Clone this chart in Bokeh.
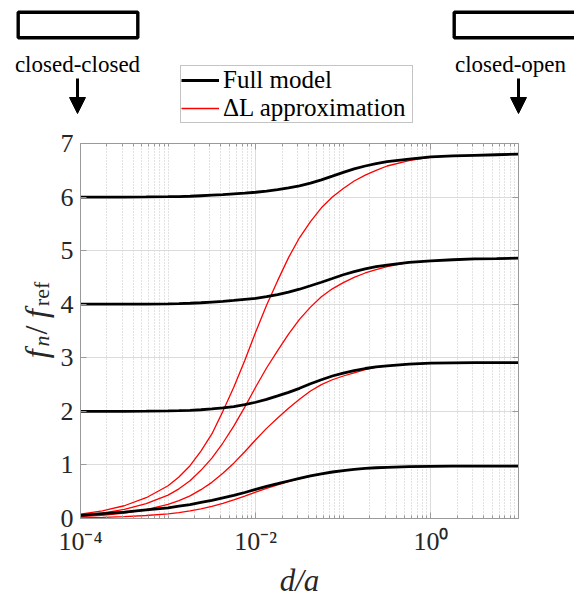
import math

from bokeh.layouts import column, row
from bokeh.models import (Arrow, BoxAnnotation, FixedTicker, Label, Legend,
                          LegendItem, LinearAxis, LogAxis, NormalHead, Range1d)
from bokeh.plotting import figure
from bokeh.embed import file_html
from bokeh.resources import INLINE

# ---------------------------------------------------------------- data
# d/a sample positions (log-spaced, denser where the curves bend)
d_over_a = [1.0e-4, 1.78e-4, 3.16e-4, 5.62e-4, 1.0e-3, 1.33e-3, 1.78e-3,
            2.37e-3, 3.16e-3, 4.22e-3, 5.62e-3, 7.50e-3, 1.0e-2, 1.33e-2,
            1.78e-2, 2.37e-2, 3.16e-2, 4.22e-2, 5.62e-2, 7.50e-2, 0.1,
            0.133, 0.178, 0.237, 0.316, 0.562, 1.0, 1.78, 3.16, 5.62, 10.0]

# Full model, f_n / f_ref for the first four modes
full_1 = [0.06, 0.09, 0.12, 0.16, 0.20, 0.23, 0.26, 0.30, 0.34, 0.385, 0.43,
          0.485, 0.545, 0.60, 0.65, 0.70, 0.75, 0.795, 0.835, 0.868, 0.895,
          0.917, 0.935, 0.947, 0.955, 0.967, 0.974, 0.977, 0.978, 0.978, 0.978]
full_2 = [2.0, 2.0, 2.0, 2.003, 2.008, 2.012, 2.02, 2.03, 2.045, 2.065, 2.09,
          2.125, 2.17, 2.225, 2.29, 2.355, 2.43, 2.515, 2.59, 2.66, 2.715,
          2.76, 2.80, 2.83, 2.85, 2.88, 2.90, 2.905, 2.91, 2.91, 2.91]
full_3 = [4.0, 4.0, 4.0, 4.003, 4.008, 4.012, 4.018, 4.027, 4.04, 4.053, 4.07,
          4.09, 4.11, 4.14, 4.18, 4.225, 4.28, 4.345, 4.41, 4.48, 4.55,
          4.61, 4.66, 4.70, 4.73, 4.78, 4.81, 4.83, 4.845, 4.85, 4.86]
full_4 = [6.0, 6.0, 6.0, 6.003, 6.007, 6.01, 6.015, 6.025, 6.035, 6.045, 6.06,
          6.073, 6.09, 6.112, 6.14, 6.172, 6.21, 6.26, 6.32, 6.39, 6.46,
          6.525, 6.58, 6.625, 6.66, 6.71, 6.75, 6.77, 6.78, 6.79, 6.80]

# End-correction (Delta L) approximation for the same modes
dl_1 = [0.012, 0.020, 0.034, 0.056, 0.088, 0.111, 0.141, 0.180, 0.226, 0.283,
        0.346, 0.417, 0.492, 0.564, 0.629, 0.690, 0.746, 0.792, 0.833, 0.868,
        0.895, 0.917, 0.935, 0.947, 0.955, 0.967, 0.974, 0.977, 0.978, 0.978, 0.978]
dl_2 = [0.035, 0.061, 0.102, 0.166, 0.262, 0.332, 0.422, 0.538, 0.675, 0.844,
        1.033, 1.245, 1.470, 1.682, 1.877, 2.060, 2.226, 2.38, 2.50, 2.59,
        2.66, 2.72, 2.78, 2.825, 2.85, 2.88, 2.90, 2.905, 2.91, 2.91, 2.91]
dl_3 = [0.058, 0.102, 0.170, 0.277, 0.437, 0.554, 0.705, 0.899, 1.128, 1.409,
        1.725, 2.080, 2.454, 2.809, 3.135, 3.441, 3.718, 3.946, 4.141, 4.287,
        4.403, 4.500, 4.583, 4.646, 4.70, 4.78, 4.81, 4.83, 4.845, 4.85, 4.86]
dl_4 = [0.082, 0.143, 0.238, 0.388, 0.612, 0.775, 0.986, 1.258, 1.578, 2.00,
        2.45, 2.95, 3.48, 3.98, 4.44, 4.87, 5.24, 5.54, 5.80, 6.00,
        6.16, 6.30, 6.41, 6.50, 6.58, 6.68, 6.745, 6.77, 6.78, 6.79, 6.80]

full_series = [full_1, full_2, full_3, full_4]
dl_series = [dl_1, dl_2, dl_3, dl_4]

x_major = [1e-4, 1e-2, 1.0]
x_major_labels = {1e-4: "10\u207b\u2074", 1e-2: "10\u207b\u00b2", 1.0: "10\u2070"}
y_major = [0, 1, 2, 3, 4, 5, 6, 7]

legend_full = "Full model"
legend_dl = "\u0394L approximation"
left_case = "closed-closed"
right_case = "closed-open"

# ---------------------------------------------------------------- styling
SERIF = "Liberation Serif"
AX_GRAY = "#9a9a9a"
TXT = "#262626"

W, H = 574, 600
TOP_H = 125          # strip above the plot holding the sketches and legend
LEFT_W = 57          # strip holding the rotated y label
FRAME_L, FRAME_R, FRAME_T, FRAME_B = 77, 518, 143, 523   # page pixels


def blank_figure(width, height, x_range, y_range):
    f = figure(width=width, height=height, x_range=x_range, y_range=y_range,
               x_axis_location=None, y_axis_location=None,
               output_backend="svg", toolbar_location=None, min_border=0)
    f.grid.visible = False
    f.outline_line_color = None
    f.background_fill_color = "white"
    f.border_fill_color = "white"
    return f


# ---------------------------------------------------------------- main plot
p = figure(width=W - LEFT_W, height=H - TOP_H, x_axis_type="log",
           x_range=Range1d(1e-4, 10.0), y_range=Range1d(0, 7),
           output_backend="svg", toolbar_location=None,
           min_border_left=FRAME_L - LEFT_W, min_border_right=W - FRAME_R,
           min_border_top=FRAME_T - TOP_H, min_border_bottom=H - FRAME_B)
p.background_fill_color = "white"
p.border_fill_color = "white"
p.outline_line_color = None

minor = []
for k in range(-4, 1):
    for m in range(2, 10):
        minor.append(m * 10.0 ** k)
minor += [1e-3, 1e-1, 10.0]
x_ticker = FixedTicker(ticks=x_major, minor_ticks=minor)
y_ticker = FixedTicker(ticks=y_major, minor_ticks=[])


def style_axis(ax, show_labels):
    ax.axis_line_color = AX_GRAY
    ax.axis_line_width = 1
    ax.major_tick_line_color = AX_GRAY
    ax.minor_tick_line_color = AX_GRAY
    ax.major_tick_in = 6
    ax.major_tick_out = 0
    ax.minor_tick_in = 3
    ax.minor_tick_out = 0
    ax.major_label_text_font = SERIF
    ax.major_label_text_font_size = "26px" if show_labels else "1px"
    ax.major_label_text_color = TXT if show_labels else None
    if not show_labels:
        ax.major_label_standoff = 0


xa = p.xaxis[0]
xa.ticker = x_ticker
xa.major_label_overrides = x_major_labels
style_axis(xa, True)
xa.major_label_standoff = 8
xa.axis_label = "d/a"
xa.axis_label_text_font = SERIF
xa.axis_label_text_font_style = "italic"
xa.axis_label_text_font_size = "31px"
xa.axis_label_text_color = TXT
xa.axis_label_standoff = 4

ya = p.yaxis[0]
ya.ticker = y_ticker
style_axis(ya, True)
ya.major_label_standoff = 7

top_ax = LogAxis(ticker=x_ticker)
style_axis(top_ax, False)
p.add_layout(top_ax, "above")
right_ax = LinearAxis(ticker=y_ticker)
style_axis(right_ax, False)
p.add_layout(right_ax, "right")

p.xgrid.ticker = x_ticker
p.xgrid.grid_line_color = "#dcdcdc"
p.xgrid.minor_grid_line_color = "#c4c4c4"
p.xgrid.minor_grid_line_dash = "1 2"
p.ygrid.ticker = y_ticker
p.ygrid.grid_line_color = "#dcdcdc"

DL_COLOR, DL_WIDTH = "#ff0000", 1.3
FULL_COLOR, FULL_WIDTH = "black", 2.8
for ys in dl_series:
    p.line(d_over_a, ys, line_color=DL_COLOR, line_width=DL_WIDTH)
for ys in full_series:
    p.line(d_over_a, ys, line_color=FULL_COLOR, line_width=FULL_WIDTH)

# ---------------------------------------------------------------- top strip
# coordinates here are page pixels (y grows downward)
top = blank_figure(W, TOP_H, Range1d(0, W), Range1d(TOP_H, 0))

for lpx, rpx in [(17.7, 137.3), (453.7, 640)]:
    top.add_layout(BoxAnnotation(left=lpx, right=rpx, top=11.7, bottom=37.3,
                                 fill_alpha=0, line_color="black", line_alpha=1,
                                 line_width=3.4))

for text, cx in [(left_case, 77), (right_case, 510)]:
    top.add_layout(Label(x=cx, y=64, text=text, text_font=SERIF,
                         text_font_size="23px", text_color="black",
                         text_align="center", text_baseline="alphabetic"))

for ax_px in (FRAME_L, FRAME_R):
    top.add_layout(Arrow(end=NormalHead(size=16, fill_color="black", line_color="black"),
                         x_start=ax_px, y_start=78, x_end=ax_px, y_end=113,
                         line_color="black", line_width=3))

# legend swatches, parked outside the visible strip
sw_full = top.line([-50, -40], [-50, -50], line_color=FULL_COLOR, line_width=FULL_WIDTH)
sw_dl = top.line([-50, -40], [-50, -50], line_color=DL_COLOR, line_width=DL_WIDTH)
legend = Legend(items=[LegendItem(label=legend_full, renderers=[sw_full]),
                       LegendItem(label=legend_dl, renderers=[sw_dl])],
                location=(180, TOP_H - 123))
legend.border_line_color = "#8a8a8a"
legend.border_line_width = 1
legend.background_fill_color = "white"
legend.background_fill_alpha = 1
legend.label_text_font = SERIF
legend.label_text_font_size = "25px"
legend.label_text_color = "black"
legend.glyph_width = 38
legend.glyph_height = 22
legend.label_standoff = 4
legend.label_width = 189
legend.padding = 0
legend.spacing = 0
legend.margin = 0
top.add_layout(legend, "center")

# ---------------------------------------------------------------- left strip
# rotated y label  f_n / f_ref, x and y in page pixels
left = blank_figure(LEFT_W, H - TOP_H, Range1d(0, LEFT_W), Range1d(H, TOP_H))
up = math.pi / 2
for text, bx, by, size, style in [("f", 35, 397, 32, "italic"),
                                  ("n", 41, 382, 22, "italic"),
                                  ("/", 35, 367, 32, "normal"),
                                  ("f", 35, 346, 32, "italic"),
                                  ("ref", 41, 331, 22, "normal")]:
    left.add_layout(Label(x=bx, y=by, text=text, text_font=SERIF,
                          text_font_size=f"{size}px", text_font_style=style,
                          text_color=TXT, angle=up, text_align="left",
                          text_baseline="alphabetic"))

layout = column(top, row(left, p, spacing=0), spacing=0)
open("out.html", "w").write(file_html(layout, INLINE))
